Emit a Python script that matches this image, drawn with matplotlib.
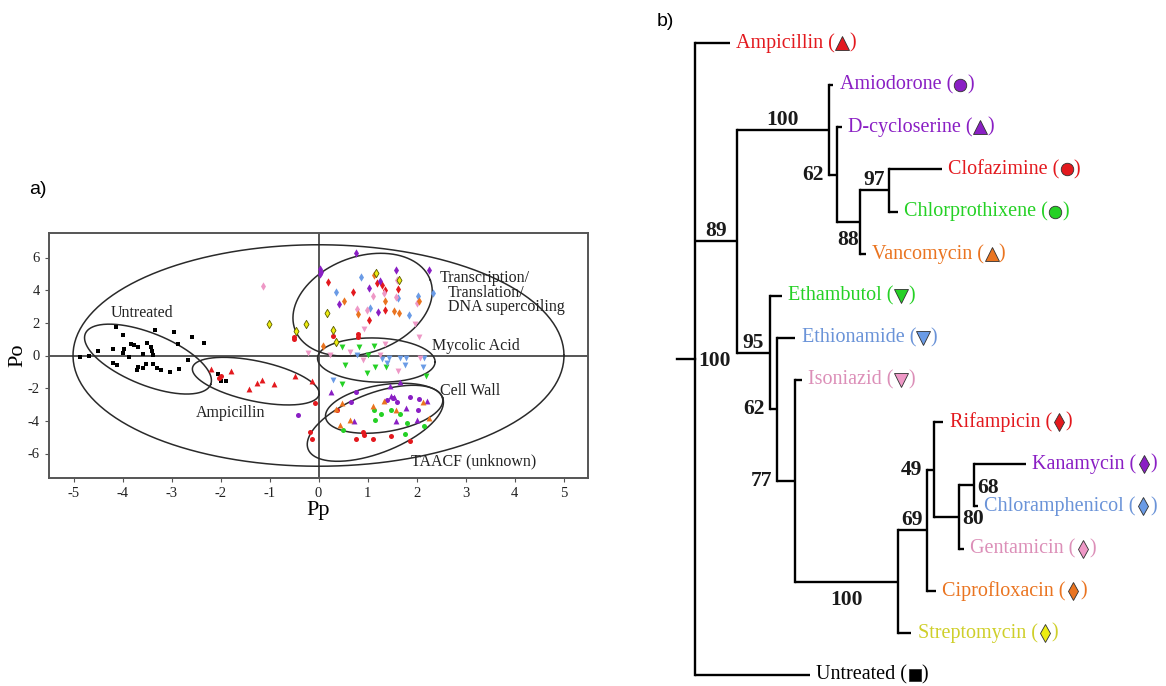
import numpy as np
import matplotlib
matplotlib.use("Agg")
import matplotlib.pyplot as plt

plt.rcParams["axes.unicode_minus"] = False

# ---------------- panel a) scores (Pp, Po) per treatment ----------------
untreated_pp = [-4.86, -4.68, -4.51, -4.13, -4.00, -4.20, -3.96, -3.83, -3.77, -3.69, -3.86, -3.59,
                -3.49, -3.41, -3.39, -3.37, -3.34, -2.95, -2.87, -2.59, -2.34, -2.67, -4.20, -4.11,
                -3.69, -3.71, -3.59, -3.52, -3.37, -3.29, -3.22, -3.03, -2.85, -4.00, -1.98, -1.88, -2.05]
untreated_po = [-0.11, -0.03, 0.30, 1.73, 1.24, 0.38, 0.38, 0.71, 0.63, 0.50, -0.07, 0.09,
                0.75, 0.54, 0.30, 0.03, 1.57, 1.45, 0.71, 1.12, 0.75, -0.28, -0.44, -0.58,
                -0.69, -0.89, -0.79, -0.52, -0.52, -0.79, -0.89, -0.99, -0.85, 0.13, -1.58, -1.55, -1.12]
ampicillin_pp = [-2.19, -1.79, -1.42, -1.25, -1.15, -0.91, -0.47, -0.13]
ampicillin_po = [-0.83, -0.93, -2.08, -1.71, -1.51, -1.77, -1.26, -1.57]
amiodorone_pp = [-0.42, 0.67, 0.77, 1.40, 1.52, 1.86, 2.04, 2.05, 1.60]
amiodorone_po = [-3.66, -2.84, -2.25, -2.70, -2.62, -2.57, -3.35, -2.68, -2.85]
dcycloserine_pp = [0.26, 1.45, 1.66, 1.47, 1.79, 0.73, 1.59, 2.02, 2.22, 1.55]
dcycloserine_po = [-2.23, -1.88, -1.63, -2.45, -3.19, -4.01, -4.01, -3.97, -2.80, -2.55]
clofazimine_pp = [-0.18, -0.13, -0.08, 0.77, 0.91, 0.93, 1.11, 1.47, 1.86, 0.37,
                  -2.00, -2.03, -0.49, -0.49, 0.30, 0.80, 0.80]
clofazimine_po = [-4.69, -5.10, -2.90, -5.10, -4.69, -4.85, -5.10, -4.95, -5.26, -3.35,
                  -1.25, -1.40, 1.16, 1.02, 1.20, 1.30, 1.16]
chlorprothixene_pp = [1.14, 1.28, 1.47, 1.16, 1.81, 1.77, 2.15, 0.50, 1.67]
chlorprothixene_po = [-3.31, -3.56, -3.35, -3.93, -4.13, -4.83, -4.34, -4.54, -3.56]
vancomycin_pp = [0.48, 0.35, 1.11, 1.33, 1.58, 2.14, 2.25, 0.43, 0.65]
vancomycin_po = [-2.90, -3.25, -3.11, -2.78, -3.35, -2.84, -3.80, -4.28, -3.97]
ethambutol_pp = [0.48, 0.82, 1.14, 1.00, 1.16, 1.38, 0.98, 0.55, 0.48, 2.19]
ethambutol_po = [0.50, 0.54, 0.58, 0.03, -0.73, -0.71, -1.06, -0.58, -1.75, -1.26]
ethionamide_pp = [0.79, 1.30, 1.43, 1.39, 1.67, 1.79, 1.77, 2.15, 2.14, 0.30]
ethionamide_po = [0.03, -0.24, -0.18, -0.48, -0.18, -0.18, -0.58, -0.18, -0.69, -1.47]
isoniazid_pp = [-0.22, 0.24, 0.65, 0.91, 1.26, 1.36, 1.62, 2.08, 0.92, 2.06, 1.97]
isoniazid_po = [0.17, 0.03, 0.24, -0.28, 0.03, 0.71, -0.94, -0.17, 1.61, 1.12, 1.93]
rifampicin_pp = [0.20, 0.71, 1.30, 1.35, 1.62, 1.36, 1.04, 1.20]
rifampicin_po = [4.48, 3.89, 4.34, 4.03, 4.07, 2.76, 2.18, 4.45]
kanamycin_pp = [0.77, 0.04, 0.06, 0.03, 1.59, 2.25, 1.04, 1.26, 0.41, 1.21]
kanamycin_po = [6.29, 5.30, 5.12, 4.98, 5.26, 5.26, 4.13, 4.54, 3.15, 2.64]
chloramphenicol_pp = [0.87, 0.35, 1.05, 1.84, 2.03, 2.34, 1.62]
chloramphenicol_po = [4.81, 3.89, 2.90, 2.49, 3.62, 3.83, 3.50]
gentamicin_pp = [1.33, 1.60, 1.59, 0.79, 0.99, 2.01, -1.13, 1.12]
gentamicin_po = [3.83, 4.60, 3.58, 2.84, 2.80, 3.21, 4.25, 3.65]
ciprofloxacin_pp = [1.13, 1.36, 0.52, 0.80, 1.55, 1.65, 2.06, 0.10]
ciprofloxacin_po = [4.95, 3.31, 3.31, 2.55, 2.70, 2.60, 3.35, 0.58]
streptomycin_pp = [1.18, 1.64, 0.18, -0.26, -0.45, 0.29, 0.35, -1.01]
streptomycin_po = [5.06, 4.65, 2.60, 1.94, 1.47, 1.57, 0.81, 1.92]

# group outlines: centre (Pp, Po), half axes (in Pp units), tilt (deg on screen)
group_cx = [0.0, -3.48, -1.28, 0.90, 1.18, 1.34, 1.16]
group_cy = [0.0, -0.22, -1.57, 3.11, -0.28, -3.23, -4.15]
group_a = [5.01, 1.38, 1.32, 1.47, 1.20, 1.21, 1.47]
group_b = [2.26, 0.53, 0.41, 0.98, 0.45, 0.48, 0.61]
group_tilt = [0, -22, -12, 20, -2, 9, 21]

# ---------------- panel b) bootstrap tree ----------------
leaf_names = ["Ampicillin", "Amiodorone", "D-cycloserine", "Clofazimine", "Chlorprothixene",
              "Vancomycin", "Ethambutol", "Ethionamide", "Isoniazid", "Rifampicin", "Kanamycin",
              "Chloramphenicol", "Gentamicin", "Ciprofloxacin", "Streptomycin", "Untreated"]
leaf_depth = [0.35, 1.38, 1.47, 2.47, 2.03, 1.71, 0.87, 1.00, 1.07, 2.48, 3.31,
              2.83, 2.69, 2.41, 2.16, 1.15]
# internal nodes: children, depth, bootstrap support
tree = {
    "n68": (["Kanamycin", "Chloramphenicol"], 2.79, 68),
    "n80": (["n68", "Gentamicin"], 2.64, 80),
    "n49": (["Rifampicin", "n80"], 2.39, 49),
    "n69": (["n49", "Ciprofloxacin"], 2.32, 69),
    "n100b": (["n69", "Streptomycin"], 2.03, 100),
    "n77": (["Isoniazid", "n100b"], 1.00, 77),
    "n62b": (["Ethionamide", "n77"], 0.82, 62),
    "n95": (["Ethambutol", "n62b"], 0.75, 95),
    "n97": (["Clofazimine", "Chlorprothixene"], 1.94, 97),
    "n88": (["n97", "Vancomycin"], 1.65, 88),
    "n62a": (["D-cycloserine", "n88"], 1.42, 62),
    "n100a": (["Amiodorone", "n62a"], 1.34, 100),
    "n89": (["n100a", "n95"], 0.42, 89),
    "root": (["Ampicillin", "n89", "Untreated"], 0.0, 100),
}
support_side = {"n68": "right", "n80": "right", "n49": "left", "n69": "above", "n100b": "below",
                "n77": "left", "n62b": "left", "n95": "above", "n97": "above", "n88": "below",
                "n62a": "left", "n100a": "above", "n89": "above", "root": "right"}

RED, PURPLE, GREEN = "#e3191e", "#8a1fc4", "#25d125"
ORANGE, BLUE, PINK, YELLOW = "#ea7420", "#6a9be6", "#ee98c6", "#eded10"
style = {
    "Untreated": ("black", "s"), "Ampicillin": (RED, "^"), "Amiodorone": (PURPLE, "o"),
    "D-cycloserine": (PURPLE, "^"), "Clofazimine": (RED, "o"), "Chlorprothixene": (GREEN, "o"),
    "Vancomycin": (ORANGE, "^"), "Ethambutol": (GREEN, "v"), "Ethionamide": (BLUE, "v"),
    "Isoniazid": (PINK, "v"), "Rifampicin": (RED, "d"), "Kanamycin": (PURPLE, "d"),
    "Chloramphenicol": (BLUE, "d"), "Gentamicin": (PINK, "d"), "Ciprofloxacin": (ORANGE, "d"),
    "Streptomycin": (YELLOW, "d"),
}
text_color = {"Streptomycin": "#cfcf2a", "Isoniazid": "#dc8fb8", "Gentamicin": "#dc8fb8",
              "Ethionamide": "#6a93d8", "Chloramphenicol": "#6a93d8", "Untreated": "black"}

SERIF = ["Liberation Serif", "DejaVu Serif"]
SANS = ["Liberation Sans", "DejaVu Sans"]

fig = plt.figure(figsize=(11.66, 6.86), dpi=100)
W, H = 1166, 686

# ================= a) =================
ax = fig.add_axes([49 / W, 1 - 478 / H, 539 / W, 245 / H])
ax.set_xlim(-5.5, 5.5)
ax.set_ylim(-7.5, 7.5)
ax.axhline(0, color="#555555", lw=1.4, zorder=1)
ax.axvline(0, color="#555555", lw=1.4, zorder=1)

sx = 539 / 11.0
sy = 245 / 15.0
t = np.linspace(0, 2 * np.pi, 300)
for cx, cy, a, b, tilt in zip(group_cx, group_cy, group_a, group_b, group_tilt):
    th = np.radians(tilt)
    u, v = a * np.cos(t), b * np.sin(t)
    ex = cx + u * np.cos(th) - v * np.sin(th)
    ey = cy + (u * np.sin(th) + v * np.cos(th)) * sx / sy
    ax.plot(ex, ey, color="#2a2a2a", lw=1.1, zorder=2)

points = [
    ("Untreated", untreated_pp, untreated_po), ("Ampicillin", ampicillin_pp, ampicillin_po),
    ("Amiodorone", amiodorone_pp, amiodorone_po), ("D-cycloserine", dcycloserine_pp, dcycloserine_po),
    ("Clofazimine", clofazimine_pp, clofazimine_po),
    ("Chlorprothixene", chlorprothixene_pp, chlorprothixene_po),
    ("Vancomycin", vancomycin_pp, vancomycin_po), ("Ethambutol", ethambutol_pp, ethambutol_po),
    ("Ethionamide", ethionamide_pp, ethionamide_po), ("Isoniazid", isoniazid_pp, isoniazid_po),
    ("Rifampicin", rifampicin_pp, rifampicin_po), ("Kanamycin", kanamycin_pp, kanamycin_po),
    ("Chloramphenicol", chloramphenicol_pp, chloramphenicol_po),
    ("Gentamicin", gentamicin_pp, gentamicin_po), ("Ciprofloxacin", ciprofloxacin_pp, ciprofloxacin_po),
    ("Streptomycin", streptomycin_pp, streptomycin_po),
]
sizes = {"s": 10, "o": 13, "^": 18, "v": 18, "d": 18}
for name, xs, ys in points:
    col, mk = style[name]
    if name == "Streptomycin":
        ax.scatter(xs, ys, s=sizes[mk], marker=mk, color=col, edgecolor="#5a5a00", lw=0.6, zorder=3)
    else:
        ax.scatter(xs, ys, s=sizes[mk], marker=mk, color=col, lw=0, zorder=3)

ax.set_xticks(range(-5, 6))
ax.set_yticks(range(-6, 7, 2))
ax.tick_params(direction="out", length=3, color="#555555", labelsize=10.5, labelcolor="#222222")
for lab in ax.get_xticklabels() + ax.get_yticklabels():
    lab.set_family(SERIF)
for sp in ax.spines.values():
    sp.set_color("#555555")
    sp.set_linewidth(1.4)

lab_kw = dict(family=SERIF, fontsize=11.5, color="#222222", zorder=4)
ax.text(-3.6, 2.6, "Untreated", ha="center", va="center", **lab_kw)
ax.text(-1.8, -3.5, "Ampicillin", ha="center", va="center", **lab_kw)
ax.text(2.48, 4.72, "Transcription/", ha="left", va="center", **lab_kw)
ax.text(2.63, 3.84, "Translation/", ha="left", va="center", **lab_kw)
ax.text(2.65, 2.99, "DNA supercoiling", ha="left", va="center", **lab_kw)
ax.text(2.32, 0.59, "Mycolic Acid", ha="left", va="center", **lab_kw)
ax.text(2.48, -2.15, "Cell Wall", ha="left", va="center", **lab_kw)
ax.text(1.89, -6.46, "TAACF (unknown)", ha="left", va="center", **lab_kw)

fig.text(318 / W, 1 - 511 / H, "Pp", family=SERIF, fontsize=16, ha="center", va="center")
fig.text(18 / W, 1 - 355 / H, "Po", family=SERIF, fontsize=16, ha="center", va="center", rotation=90)
fig.text(38 / W, 1 - 190 / H, "a)", family=SANS, fontsize=14, ha="center", va="center")
fig.text(665 / W, 1 - 22 / H, "b)", family=SANS, fontsize=14, ha="center", va="center")

# ================= b) =================
ax2 = fig.add_axes([640 / W, 0, 526 / W, 1])
ax2.set_xlim(-0.55, 4.71)
ax2.set_ylim(15.26, -1.02)
ax2.axis("off")

pos = {n: (d, i) for i, (n, d) in enumerate(zip(leaf_names, leaf_depth))}


def place(node):
    if node in pos:
        return pos[node]
    kids, depth, _ = tree[node]
    ys = [place(k)[1] for k in kids]
    pos[node] = (depth, (ys[0] + ys[-1]) / 2)
    return pos[node]


place("root")
parent = {k: n for n, (kids, _, _) in tree.items() for k in kids}
LW = 1.7
for node, (kids, depth, sup) in tree.items():
    d, y = pos[node]
    ky = [pos[k][1] for k in kids]
    ax2.plot([d, d], [min(ky), max(ky)], color="black", lw=LW, solid_capstyle="projecting")
    for k in kids:
        ax2.plot([d, pos[k][0]], [pos[k][1]] * 2, color="black", lw=LW, solid_capstyle="butt")
    side = support_side[node]
    pd = pos[parent[node]][0] if node in parent else d - 0.18
    kw = dict(family=SERIF, fontsize=15.5, fontweight="bold", color="#1a1a1a")
    if side == "above":
        ax2.text((pd + d) / 2, y - 0.12, str(sup), ha="center", va="baseline", **kw)
    elif side == "below":
        ax2.text((pd + d) / 2, y + 0.2, str(sup), ha="center", va="top", **kw)
    elif side == "left":
        ax2.text(pd - 0.05, y, str(sup), ha="right", va="center", **kw)
    else:
        ax2.text(d + 0.03, y + 0.05, str(sup), ha="left", va="center", **kw)

# root stub
rd, ry = pos["root"]
ax2.plot([rd - 0.18, rd], [ry, ry], color="black", lw=LW)

renderer = fig.canvas.get_renderer()
inv = ax2.transData.inverted()
msize = {"s": 8, "o": 9, "^": 10, "v": 10, "d": 9}
for name, d in zip(leaf_names, leaf_depth):
    y = pos[name][1]
    col, mk = style[name]
    tc = text_color.get(name, col)
    txt = ax2.text(d + 0.065, y, name + " (", family=SERIF, fontsize=14.5, color=tc,
                   ha="left", va="center")
    bb = txt.get_window_extent(renderer)
    xm = inv.transform((bb.x1 + 7, 0))[0]
    ax2.plot([xm], [y], marker=mk, ms=msize[mk], color=col, mec="#303030", mew=0.6)
    xr = inv.transform((bb.x1 + 14, 0))[0]
    ax2.text(xr, y, ")", family=SERIF, fontsize=14.5, color=tc, ha="left", va="center")

fig.savefig("out.png", dpi=100)
